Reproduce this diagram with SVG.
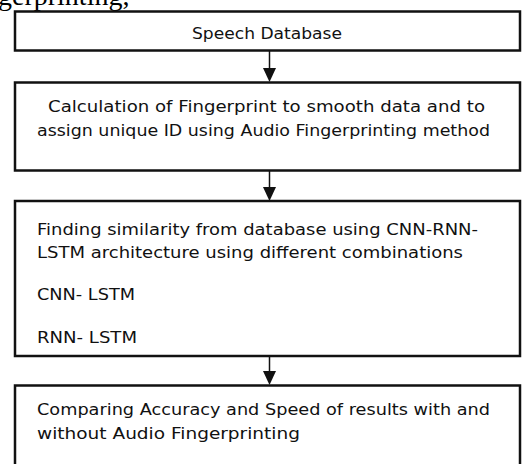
<svg xmlns="http://www.w3.org/2000/svg" width="522" height="464" viewBox="0 0 522 464">
<style>
.box{fill:#fff;stroke:#111;stroke-width:2.5}
.t{font-family:"DejaVu Sans","Liberation Sans",sans-serif;font-size:15px;fill:#111}
.c{text-anchor:middle}
.conn line{stroke:#111;stroke-width:1.5}
.head{fill:#111}
.cap{font-family:"Liberation Serif","Times New Roman",serif;font-size:28px;fill:#000}
</style>
<rect width="522" height="464" fill="#fff"/>
<text class="cap" x="-2" y="5">gerprinting,</text>
<g id="node-speech-db">
<rect class="box" x="15" y="11.5" width="505" height="39"/>
<text class="t c" x="267" y="39" textLength="150" lengthAdjust="spacingAndGlyphs">Speech Database</text>
</g>
<g id="node-fingerprint">
<rect class="box" x="15" y="82.5" width="505" height="88"/>
<text class="t" x="48" y="112" textLength="437" lengthAdjust="spacingAndGlyphs">Calculation of Fingerprint to smooth data and to</text>
<text class="t" x="37" y="136" textLength="453" lengthAdjust="spacingAndGlyphs">assign unique ID using Audio Fingerprinting method</text>
</g>
<g id="node-similarity">
<rect class="box" x="15" y="201" width="505" height="155"/>
<text class="t" x="37" y="235" textLength="441" lengthAdjust="spacingAndGlyphs">Finding similarity from database using CNN-RNN-</text>
<text class="t" x="37" y="258" textLength="426" lengthAdjust="spacingAndGlyphs">LSTM architecture using different combinations</text>
<text class="t" x="37" y="300" textLength="98" lengthAdjust="spacingAndGlyphs">CNN- LSTM</text>
<text class="t" x="37" y="343" textLength="100" lengthAdjust="spacingAndGlyphs">RNN- LSTM</text>
</g>
<g id="node-compare">
<rect class="box" x="15" y="385.5" width="505" height="90"/>
<text class="t" x="37" y="415" textLength="453" lengthAdjust="spacingAndGlyphs">Comparing Accuracy and Speed of results with and</text>
<text class="t" x="37" y="439" textLength="263" lengthAdjust="spacingAndGlyphs">without Audio Fingerprinting</text>
</g>
<g id="connectors" class="conn">
<line x1="269.5" y1="51" x2="269.5" y2="70"/>
<polygon class="head" points="263,68 276,68 269.5,82"/>
<line x1="269.5" y1="171" x2="269.5" y2="189"/>
<polygon class="head" points="263,187 276,187 269.5,201"/>
<line x1="269.5" y1="356" x2="269.5" y2="373"/>
<polygon class="head" points="263,371 276,371 269.5,385"/>
</g>
</svg>
